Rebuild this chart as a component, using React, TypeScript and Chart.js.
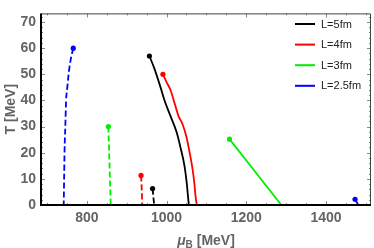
import React, { useEffect, useRef } from "react";
import { Chart, registerables } from "chart.js";

Chart.register(...registerables);

// Data
const black5SolidX = [957, 970, 985, 995, 1010, 1025, 1035, 1045, 1051, 1054, 1056];
const black5SolidY = [57, 52, 45, 40, 34, 28, 22, 15, 8, 3, 0];
const black5DashX = [965, 967, 969];
const black5DashY = [6.3, 3, 0];

const red4SolidX = [991, 1000, 1010, 1020, 1030, 1040, 1050, 1058, 1065, 1070, 1073, 1076];
const red4SolidY = [50, 47, 44, 39, 34, 31, 26, 20, 14, 8, 3, 0];
const red4DashX = [936, 938, 939];
const red4DashY = [11.3, 5, 0];

const green3SolidX = [1158, 1288];
const green3SolidY = [25.2, 0];
const green3DashX = [854, 857, 860];
const green3DashY = [30, 15, 0];

const blue25SolidX = [1473, 1481];
const blue25SolidY = [2.2, 0];
const blue25DashX = [766, 760, 755, 751, 748, 746, 744, 743, 742];
const blue25DashY = [60, 56, 51, 45, 40, 30, 20, 10, 0];

const legendLabels = ["L=5fm", "L=4fm", "L=3fm", "L=2.5fm"];
const seriesColors = ["#000000", "#ff0000", "#00ee00", "#0000ff"];

const xTicks = [800, 1000, 1200, 1400];
const yTicks = [0, 10, 20, 30, 40, 50, 60, 70];
const xMinorStep = 50;
const yMinorStep = 2;
const xRange = [685, 1513];
const yRange = [0, 73.3];

function pts(xs: number[], ys: number[]) {
  return xs.map((x, i) => ({ x, y: ys[i] }));
}

function ds(xs: number[], ys: number[], color: string, dashed: boolean) {
  return {
    data: pts(xs, ys),
    borderColor: color,
    backgroundColor: color,
    borderWidth: 1.8,
    borderDash: dashed ? [6, 3] : [],
    pointRadius: xs.map((_, i) => (i === 0 ? 2.6 : 0)),
    pointBorderWidth: 0,
    pointHoverRadius: 0,
    cubicInterpolationMode: "monotone",
    fill: false,
  };
}

const framePlugin = {
  id: "framePlugin",
  afterDatasetsDraw(chart: any) {
    const { ctx, chartArea } = chart;
    const { left, right, top, bottom } = chartArea;
    const xs = chart.scales.x;
    const ys = chart.scales.y;
    ctx.save();
    // inside ticks
    ctx.strokeStyle = "#888";
    ctx.lineWidth = 1;
    for (let v = Math.ceil(xRange[0] / xMinorStep) * xMinorStep; v <= xRange[1]; v += xMinorStep) {
      const px = Math.round(xs.getPixelForValue(v)) + 0.5;
      const len = v % 200 === 0 ? 4 : 2;
      ctx.beginPath();
      ctx.moveTo(px, bottom);
      ctx.lineTo(px, bottom - len);
      ctx.moveTo(px, top);
      ctx.lineTo(px, top + len);
      ctx.stroke();
    }
    for (let v = 0; v <= yRange[1]; v += yMinorStep) {
      const py = Math.round(ys.getPixelForValue(v)) + 0.5;
      const len = v % 10 === 0 ? 4 : 2;
      ctx.beginPath();
      ctx.moveTo(left, py);
      ctx.lineTo(left + len, py);
      ctx.moveTo(right, py);
      ctx.lineTo(right - len, py);
      ctx.stroke();
    }
    // frame
    ctx.strokeStyle = "#444";
    ctx.lineWidth = 1;
    ctx.beginPath();
    ctx.moveTo(left, top + 0.5);
    ctx.lineTo(right - 0.5, top + 0.5);
    ctx.lineTo(right - 0.5, bottom);
    ctx.stroke();
    ctx.strokeStyle = "#000";
    ctx.lineWidth = 2;
    ctx.beginPath();
    ctx.moveTo(left, top);
    ctx.lineTo(left, bottom);
    ctx.lineTo(right, bottom);
    ctx.stroke();

    // legend
    ctx.font = "11px 'Liberation Sans', Arial, sans-serif";
    ctx.textBaseline = "middle";
    ctx.textAlign = "left";
    legendLabels.forEach((lab, i) => {
      const y = 24 + i * 20.6;
      ctx.strokeStyle = seriesColors[i];
      ctx.lineWidth = 2;
      ctx.setLineDash([]);
      ctx.beginPath();
      ctx.moveTo(295, y);
      ctx.lineTo(315, y);
      ctx.stroke();
      ctx.fillStyle = "#222";
      ctx.fillText(lab, 321, y + 0.5);
    });

    // axis titles
    ctx.fillStyle = "#646464";
    const cx = (left + right) / 2;
    const by = 245;
    const f1 = "italic bold 14px 'Liberation Sans', Arial, sans-serif";
    const f2 = "bold 10px 'Liberation Sans', Arial, sans-serif";
    const f3 = "bold 14px 'Liberation Sans', Arial, sans-serif";
    ctx.textBaseline = "alphabetic";
    ctx.font = f1;
    const w1 = ctx.measureText("\u03bc").width;
    ctx.font = f2;
    const w2 = ctx.measureText("B").width;
    ctx.font = f3;
    const w3 = ctx.measureText(" [MeV]").width;
    let sx = cx - (w1 + w2 + w3) / 2;
    ctx.font = f1;
    ctx.fillText("\u03bc", sx, by);
    sx += w1;
    ctx.font = f2;
    ctx.fillText("B", sx, by + 3);
    sx += w2;
    ctx.font = f3;
    ctx.fillText(" [MeV]", sx, by);

    ctx.translate(15, (top + bottom) / 2);
    ctx.rotate(-Math.PI / 2);
    ctx.textAlign = "center";
    ctx.font = f3;
    ctx.fillText("T [MeV]", 0, 0);
    ctx.restore();
  },
};

export default function App() {
  const ref = useRef<HTMLCanvasElement>(null);
  useEffect(() => {
    if (!ref.current) return;
    const tickFont = { family: "'Liberation Sans', Arial, sans-serif", size: 14, weight: "bold" as const };
    const chart = new Chart(ref.current, {
      type: "line",
      data: {
        datasets: [
          ds(black5SolidX, black5SolidY, seriesColors[0], false),
          ds(black5DashX, black5DashY, seriesColors[0], true),
          ds(red4SolidX, red4SolidY, seriesColors[1], false),
          ds(red4DashX, red4DashY, seriesColors[1], true),
          ds(green3SolidX, green3SolidY, seriesColors[2], false),
          ds(green3DashX, green3DashY, seriesColors[2], true),
          ds(blue25SolidX, blue25SolidY, seriesColors[3], false),
          ds(blue25DashX, blue25DashY, seriesColors[3], true),
        ] as any,
      },
      options: {
        animation: false,
        responsive: false,
        layout: { padding: { top: 2, right: 3, left: 0, bottom: 0 } },
        plugins: { legend: { display: false }, tooltip: { enabled: false } },
        scales: {
          x: {
            type: "linear",
            min: xRange[0],
            max: xRange[1],
            grid: { display: false, drawTicks: false },
            border: { display: false },
            ticks: {
              font: tickFont,
              color: "#646464",
              padding: 5,
              maxRotation: 0,
              callback: (v: any) => String(v),
            },
            afterBuildTicks: (s: any) => {
              s.ticks = xTicks.map((v) => ({ value: v }));
            },
            afterFit: (s: any) => {
              s.height = 43;
            },
          },
          y: {
            type: "linear",
            min: yRange[0],
            max: yRange[1],
            grid: { display: false, drawTicks: false },
            border: { display: false },
            ticks: { font: tickFont, color: "#646464", padding: 5, callback: (v: any) => String(v) },
            afterBuildTicks: (s: any) => {
              s.ticks = yTicks.map((v) => ({ value: v }));
            },
            afterFit: (s: any) => {
              s.width = 41;
            },
          },
        },
      },
      plugins: [framePlugin],
    });
    return () => chart.destroy();
  }, []);
  return (
    <div style={{ position: "fixed", left: 0, top: 0, width: 374, height: 248, background: "#fff" }}>
      <canvas ref={ref} width={374} height={248} style={{ display: "block" }} />
    </div>
  );
}
